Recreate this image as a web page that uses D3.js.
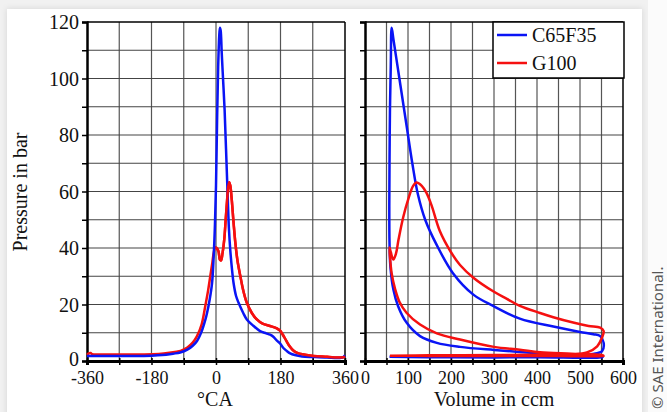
<!DOCTYPE html>
<html>
<head>
<meta charset="utf-8">
<script src="https://cdn.jsdelivr.net/npm/d3@7"></script>
<style>
  html, body { margin: 0; padding: 0; background: #f1f1f1; }
  svg { display: block; }
  .serif { font-family: "Liberation Serif", "DejaVu Serif", serif; }
</style>
</head>
<body>
<div id="chart"></div>
<script>
// crank angle traces (deg, bar)
var caBlue = [[-360,1.8],[-300,1.8],[-240,1.8],[-180,1.9],[-150,2.1],[-120,2.6],[-100,3.0],[-80,4.0],[-65,5.4],[-53,7.1],[-40,10.5],[-30,14.5],[-25,17],[-18,21.5],[-11,27.6],[-6.5,37],[-3,48],[0,62],[3,85],[6,104],[9,115],[11,118],[13,117],[16,109],[20,99],[24,89],[28,75],[33,57],[36,47],[40,39],[45,32],[49,27.6],[56,23],[63,20.6],[76,17],[86,14.7],[104,12.5],[123,10.6],[140,9.8],[151,9.3],[160,8.6],[170,7.2],[178,6.3],[188,4.6],[197,3.6],[207,2.7],[220,2.1],[240,1.6],[272,1.4],[310,1.2],[346,1.1],[355,1.4],[360,2.0]];
var caRed = [[-360,2.2],[-355,2.7],[-350,2.8],[-345,2.4],[-330,2.3],[-270,2.3],[-200,2.3],[-160,2.5],[-130,2.9],[-110,3.3],[-99,3.6],[-80,4.8],[-65,6.5],[-53,8.8],[-40,13],[-30,19.4],[-22,25],[-16,30],[-10,35],[-6.5,38.2],[-2,40.2],[2,40.0],[7,38.8],[11,35.8],[14,35.6],[18,38],[23,43],[27,50],[31,57],[34,61.5],[37,63.3],[40,62],[44,57],[49,49],[54,41.8],[60,35.5],[68,30],[76,25],[86,20.6],[100,17],[114,14.7],[130,13.2],[151,12.4],[165,11.8],[174,11.2],[180,10.6],[187,9.2],[196,7.2],[206,5.1],[215,3.8],[225,3.0],[245,2.3],[272,1.8],[310,1.5],[346,1.2],[355,1.3],[360,1.6]];

// p-V loops (ccm, bar)
var pvBlue = [[57,1.5],[200,1.3],[400,1.3],[552,1.4],
  [553,1.6],[500,2.0],[440,2.4],[360,3.2],[300,3.9],[221,5.0],[167,6.4],[128,8.8],[97,13.5],[77,19.4],[66,25.3],[59,33.5],[57,42],[56.5,55],[57,70],[58,88],[60,105],[62,118],
  [66,114],[75,105],[86,94],[97,83],[110,70],[123,59],[140,50],[167,41],[205,31],[252,23.5],[298,19.5],[360,15],[438,12.2],[500,10.3],[531,9.5],[547,8.8],[555,6.4],[551,3.4],[540,2.8],[516,2.3],[450,1.9],[300,1.6],[150,1.5],[57,1.5]];
var pvRed = [[58,1.9],[150,1.8],[300,1.8],[450,1.8],[555,1.8],
  [550,2.1],[480,2.6],[407,3.1],[360,4],[300,5],[221,7.6],[167,9.8],[128,12.9],[97,17],[80,21],[70,25.5],[62,31],[58,37],[57,40.2],
  [60,38.5],[66,35.9],[72,38],[78,43],[89,51],[101,57.5],[112,62],[120,63.2],[132,62],[143,59.5],[155,55],[174,46],[200,38.5],[221,34],[252,29.5],[300,24.5],[330,22],[360,19.5],[407,17],[438,15.5],[484,13.6],[520,12.4],[547,11.8],[555,10.6],[551,8.2],[540,5.2],[516,3.0],[478,2.4],[400,2.2],[300,2.1],[150,2.0],[58,1.9]];

var seriesNames = ["C65F35", "G100"];
var seriesColors = ["#0a14f5", "#f51010"];
var caTicks = [-360, -180, 0, 180, 360];
var volTicks = [0, 100, 200, 300, 400, 500, 600];
var pTicks = [0, 20, 40, 60, 80, 100, 120];

var W = 667, H = 412;

var svg = d3.select("#chart").append("svg").attr("width", W).attr("height", H);

var defs = svg.append("defs");
var f = defs.append("filter").attr("id", "shadow").attr("x", "-5%").attr("y", "-5%").attr("width", "110%").attr("height", "110%");
f.append("feDropShadow").attr("dx", 0).attr("dy", 0).attr("stdDeviation", 3).attr("flood-color", "#000").attr("flood-opacity", 0.12);

svg.append("rect").attr("width", W).attr("height", H).attr("fill", "#f1f1f1");
svg.append("rect").attr("x", 648).attr("y", 0).attr("width", W - 648).attr("height", H).attr("fill", "#fbfbfb");
svg.append("rect").attr("x", 7).attr("y", 9).attr("width", 635).attr("height", 410).attr("fill", "#fff").attr("filter", "url(#shadow)");

var y = d3.scaleLinear().domain([0, 120]).range([361, 22]);
var xL = d3.scaleLinear().domain([-360, 360]).range([87, 345]);
var xR = d3.scaleLinear().domain([0, 600]).range([365, 623]);

var line = function (sx) {
  return d3.line().x(function (d) { return sx(d[0]); }).y(function (d) { return y(d[1]); })
    .curve(d3.curveCatmullRom.alpha(0.5));
};

function panel(sx, xStep, labels, yLabels) {
  var g = svg.append("g");
  var xd = sx.domain();
  // grid
  g.selectAll(".vg").data(d3.range(xd[0] + xStep, xd[1], xStep)).enter().append("line")
    .attr("x1", sx).attr("x2", sx).attr("y1", y(120)).attr("y2", y(0))
    .attr("stroke", "#555").attr("stroke-width", 1.2);
  g.selectAll(".hg").data(d3.range(10, 120, 10)).enter().append("line")
    .attr("x1", sx(xd[0])).attr("x2", sx(xd[1])).attr("y1", y).attr("y2", y)
    .attr("stroke", "#444").attr("stroke-width", 1.2);
  // top and right border
  g.append("line").attr("x1", sx(xd[0])).attr("x2", sx(xd[1])).attr("y1", y(120)).attr("y2", y(120))
    .attr("stroke", "#000").attr("stroke-width", 1.5);
  g.append("line").attr("x1", sx(xd[1])).attr("x2", sx(xd[1])).attr("y1", y(120)).attr("y2", y(0))
    .attr("stroke", "#000").attr("stroke-width", 1.5);

  // left axis
  var ya = g.append("g").attr("transform", "translate(" + sx(xd[0]) + ",0)")
    .call(d3.axisLeft(y).tickValues(d3.range(0, 121, 10)).tickSize(5).tickPadding(3)
      .tickFormat(function (d) { return yLabels && yLabels.indexOf(d) >= 0 ? d : ""; }));
  ya.attr("font-family", null).attr("font-size", null);
  ya.select(".domain").attr("stroke", "#000").attr("stroke-width", 2.5);
  ya.selectAll(".tick line").attr("stroke", "#000").attr("stroke-width", 1.5);
  ya.selectAll(".tick text").attr("class", "serif").style("font-size", "20px")
    .attr("fill", "#111").attr("dy", function (d) { return d === 0 ? "0.2em" : "0.34em"; });

  // bottom axis
  var xa = g.append("g").attr("transform", "translate(0," + y(0) + ")")
    .call(d3.axisBottom(sx).tickValues(d3.range(xd[0], xd[1] + 1, xStep)).tickSize(4).tickPadding(6)
      .tickFormat(function (d) { return labels.indexOf(d) >= 0 ? d : ""; }));
  xa.attr("font-family", null).attr("font-size", null);
  xa.select(".domain").attr("stroke", "#000").attr("stroke-width", 3);
  xa.selectAll(".tick line").attr("stroke", "#000").attr("stroke-width", 1.5).attr("y1", -3);
  xa.selectAll(".tick text").attr("class", "serif").style("font-size", "18px").attr("fill", "#111");
  return g;
}

var gL = panel(xL, 90, caTicks, pTicks);
var gR = panel(xR, 50, volTicks, null);

gL.append("path").datum(caRed).attr("d", line(xL)).attr("fill", "none").attr("stroke", seriesColors[1]).attr("stroke-width", 2.5);
gL.append("path").datum(caBlue).attr("d", line(xL)).attr("fill", "none").attr("stroke", seriesColors[0]).attr("stroke-width", 2.5);
gL.append("path").datum(caRed.filter(function (d) { return d[0] > 0; })).attr("d", line(xL)).attr("fill", "none").attr("stroke", seriesColors[1]).attr("stroke-width", 2.5);

gR.append("path").datum(pvBlue).attr("d", line(xR)).attr("fill", "none").attr("stroke", seriesColors[0]).attr("stroke-width", 2.5);
gR.append("path").datum(pvRed).attr("d", line(xR)).attr("fill", "none").attr("stroke", seriesColors[1]).attr("stroke-width", 2.5);

// legend
var lg = svg.append("g");
lg.append("rect").attr("x", 493).attr("y", 22).attr("width", 131).attr("height", 56)
  .attr("fill", "#fff").attr("stroke", "#000").attr("stroke-width", 1.5);
seriesNames.forEach(function (n, i) {
  var ly = 35 + i * 28;
  lg.append("line").attr("x1", 497).attr("x2", 527).attr("y1", ly).attr("y2", ly)
    .attr("stroke", seriesColors[i]).attr("stroke-width", 2.5);
  lg.append("text").attr("class", "serif").attr("x", 532).attr("y", ly + 7).text(n)
    .style("font-size", "20px").attr("fill", "#111");
});

// axis titles
svg.append("text").attr("class", "serif").attr("x", 215).attr("y", 406).attr("text-anchor", "middle").text("°CA")
  .style("font-size", "20px").attr("fill", "#111");
svg.append("text").attr("class", "serif").attr("x", 494).attr("y", 406).attr("text-anchor", "middle").text("Volume in ccm")
  .style("font-size", "20px").attr("fill", "#111");
svg.append("text").attr("class", "serif").attr("transform", "translate(27,192) rotate(-90)").attr("text-anchor", "middle")
  .text("Pressure in bar").style("font-size", "20px").attr("fill", "#111");

svg.append("text").attr("transform", "translate(663,409) rotate(-90)").text("© SAE International.")
  .style("font-family", '"Noto Sans", "Open Sans", sans-serif').style("font-size", "15px").attr("fill", "#555");
</script>
</body>
</html>
